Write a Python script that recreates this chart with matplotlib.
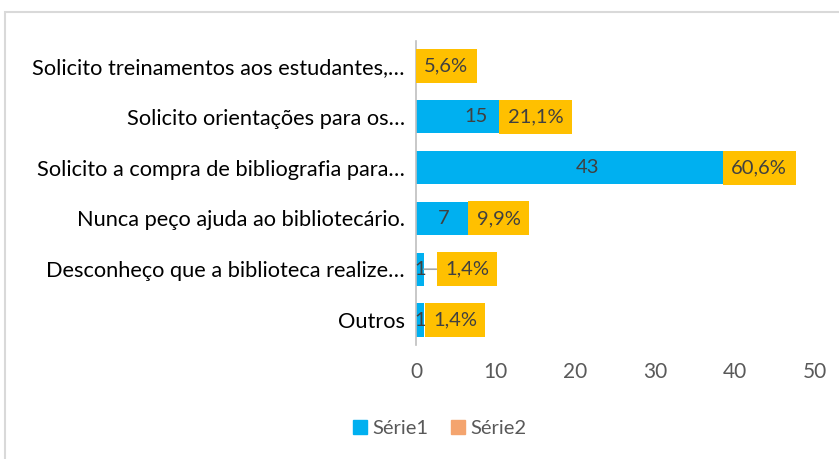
import matplotlib.pyplot as plt
from matplotlib.patches import Rectangle
from matplotlib.lines import Line2D

plt.rcParams['font.family'] = ['Lato', 'DejaVu Sans']

# data
categorias = ['Solicito treinamentos aos estudantes,…',
              'Solicito orientações para os…',
              'Solicito a compra de bibliografia para…',
              'Nunca peço ajuda ao bibliotecário.',
              'Desconheço que a biblioteca realize…',
              'Outros']
serie1 = [4, 15, 43, 7, 1, 1]
serie2 = [0.056, 0.211, 0.606, 0.099, 0.014, 0.014]
rotulos2 = ['5,6%', '21,1%', '60,6%', '9,9%', '1,4%', '1,4%']

azul = '#00B0F0'
laranja = '#F4A46E'
amarelo = '#FFC000'
cinza_txt = '#404040'

fig = plt.figure(figsize=(8.39, 4.59), dpi=100)
ax = fig.add_axes([416/839, 1 - 345.4/459, 399/839, (345.4 - 40.6)/459])

y = list(range(len(categorias)))
ax.barh(y, serie1, height=0.65, color=azul, zorder=2)
ax.barh(y, serie2, left=serie1, height=0.65, color=laranja, zorder=2)

# rotulos da serie 1 (centro da barra)
for i, v in enumerate(serie1):
    if i == 0:
        continue  # escondido atras do rotulo da serie 2
    ax.text(v / 2, i, str(v), ha='center', va='center', fontsize=14.5,
            color=cinza_txt, zorder=3)

# rotulos da serie 2 (caixas amarelas)
alinh = ['center', 'center', 'center', 'left', 'left', 'left']
desloc = [-1.5, 0, 0, 5, 21, 9]
for i, (v, s) in enumerate(zip(serie1, rotulos2)):
    kw = {}
    if i == 4:
        kw['arrowprops'] = dict(arrowstyle='-', color='#A6A6A6', lw=1.2,
                                shrinkA=0, shrinkB=0)
    ax.annotate(s, xy=(v, i), xytext=(desloc[i], 0), textcoords='offset pixels',
                ha=alinh[i], va='center', fontsize=14.5, color=cinza_txt, zorder=4,
                bbox=dict(boxstyle='square,pad=0.42', fc=amarelo, ec='none'), **kw)

ax.set_xlim(0, 50)
ax.set_ylim(len(categorias) - 0.5, -0.5)
ax.set_xticks([0, 10, 20, 30, 40, 50])
ax.set_yticks(y)
ax.set_yticklabels(categorias, fontsize=15.7, color='black')
ax.tick_params(axis='y', length=0, pad=8)
ax.tick_params(axis='x', length=0, pad=12, labelsize=15, labelcolor='#595959')
for s in ['top', 'right', 'bottom']:
    ax.spines[s].set_visible(False)
ax.spines['left'].set_color('#BFBFBF')
ax.spines['left'].set_linewidth(1.2)

handles = [Line2D([], [], marker='s', ls='', color=azul, markersize=10),
           Line2D([], [], marker='s', ls='', color=laranja, markersize=10)]
fig.legend(handles, ['Série1', 'Série2'], loc='center', ncol=2,
           bbox_to_anchor=(438/839, 1 - 428/459), frameon=False,
           fontsize=14.5, labelcolor='#595959', handletextpad=0.1,
           columnspacing=1.0, handlelength=1)

# borda do grafico
fig.patches.append(Rectangle((5/839, -0.1), 1, 1 - 12/459 + 0.1,
                             transform=fig.transFigure, fill=False,
                             ec='#D9D9D9', lw=1.5))

fig.savefig('out.png', dpi=100)
